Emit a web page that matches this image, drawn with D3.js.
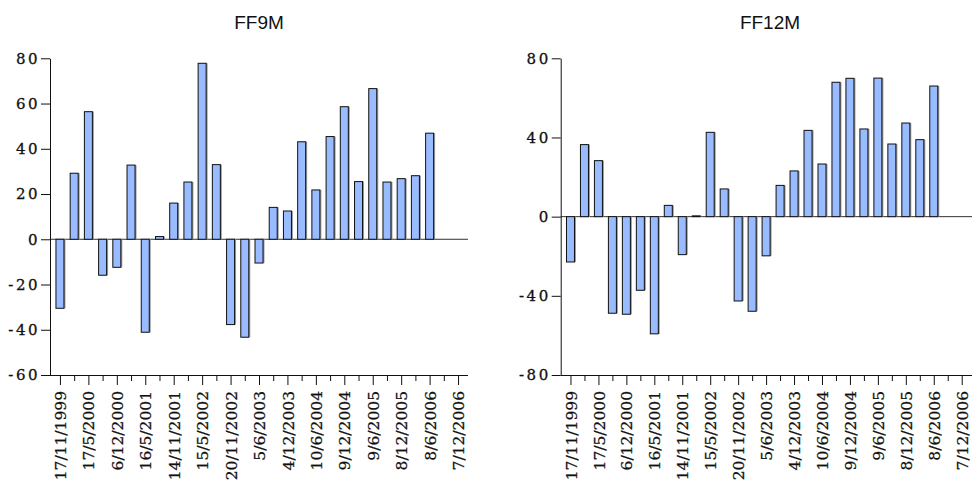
<!DOCTYPE html>
<html>
<head>
<meta charset="utf-8">
<script src="https://cdn.jsdelivr.net/npm/d3@7"></script>
<style>
  html, body { margin: 0; padding: 0; background: #fff; }
  svg { display: block; }
  .title { font-family: "Liberation Sans", Arial, sans-serif; font-size: 19px; fill: #111; }
  .ylab text { font-family: "DejaVu Serif", serif; font-size: 15px; letter-spacing: 2.5px; fill: #111; stroke: #111; stroke-width: 0.3px; }
  .xlab text { font-family: "DejaVu Serif", serif; font-size: 15.5px; fill: #111; stroke: #111; stroke-width: 0.25px; }
</style>
</head>
<body>
<svg id="chart" width="972" height="484"></svg>
<script>
// Observation dates (quarterly); only every second one is labelled
const dates = [
  "17/11/1999", "", "17/5/2000", "", "6/12/2000", "", "16/5/2001", "",
  "14/11/2001", "", "15/5/2002", "", "20/11/2002", "", "5/6/2003", "",
  "4/12/2003", "", "10/6/2004", "", "9/12/2004", "", "9/6/2005", "",
  "8/12/2005", "", "8/6/2006", "", "7/12/2006"
];

// FF9M series (last two observations not available)
const ff9m = [
  -30.5, 29.2, 56.4, -15.9, -12.4, 32.8, -41.1, 1.2, 16.0, 25.3,
  77.8, 33.0, -37.7, -43.3, -10.5, 14.1, 12.5, 43.1, 21.8, 45.4,
  58.6, 25.5, 66.6, 25.3, 26.8, 28.1, 46.9, null, null
];

// FF12M series
const ff12m = [
  -22.9, 36.4, 28.3, -48.8, -49.3, -37.2, -59.2, 5.7, -19.2, 0.4,
  42.6, 14.0, -42.6, -47.8, -19.8, 15.8, 23.1, 43.6, 26.6, 67.9,
  69.9, 44.3, 70.0, 36.7, 47.3, 38.9, 66.0, null, null
];

const ticks9 = [-60, -40, -20, 0, 20, 40, 60, 80];
const ticks12 = [-80, -40, 0, 40, 80];

const svg = d3.select("#chart");
const fmt = v => String(v); // plain hyphen for negatives

function panel(cfg) {
  const g = svg.append("g");
  const n = dates.length;
  const x = d3.scaleLinear().domain([-0.7, n - 1 + 0.7]).range([cfg.x0, cfg.x1]);
  const y = d3.scaleLinear().domain(cfg.yDomain).range([cfg.yBottom, cfg.yTop]);

  // title
  g.append("text").attr("class", "title")
    .attr("x", cfg.titleX).attr("y", 29)
    .attr("text-anchor", "middle").text(cfg.title);

  // zero line
  g.append("line")
    .attr("x1", cfg.x0).attr("x2", cfg.xEnd)
    .attr("y1", y(0)).attr("y2", y(0))
    .attr("stroke", "#333").attr("stroke-width", 1);

  // bars
  const bw = 8;
  const data = cfg.values.map((v, i) => ({ i, v })).filter(d => d.v !== null);
  const bars = g.append("g");
  // soft grey edge on the right of each bar
  bars.selectAll("rect.shade").data(data).join("rect")
    .attr("class", "shade")
    .attr("x", d => x(d.i) - bw / 2 + 1.5)
    .attr("y", d => Math.min(y(d.v), y(0)))
    .attr("width", bw)
    .attr("height", d => Math.max(0.5, Math.abs(y(d.v) - y(0))))
    .attr("fill", "#9a9a9a");
  bars.selectAll("rect.bar").data(data).join("rect")
    .attr("class", "bar")
    .attr("x", d => x(d.i) - bw / 2)
    .attr("y", d => Math.min(y(d.v), y(0)))
    .attr("width", bw)
    .attr("height", d => Math.max(0.5, Math.abs(y(d.v) - y(0))))
    .attr("fill", "#99bbff")
    .attr("stroke", "#111")
    .attr("stroke-width", 1);

  // y axis
  const ya = g.append("g").attr("class", "ylab")
    .attr("transform", `translate(${cfg.x0},0)`)
    .call(d3.axisLeft(y).tickValues(cfg.yTicks).tickSize(9).tickSizeOuter(0).tickPadding(1)
      .tickFormat(fmt));
  ya.select(".domain").attr("stroke", "#111");
  ya.selectAll(".tick line").attr("stroke", "#111");

  // x axis
  const xa = g.append("g").attr("class", "xlab")
    .attr("transform", `translate(0,${cfg.yBottom})`)
    .call(d3.axisBottom(x).tickValues(d3.range(n)).tickSize(6).tickSizeOuter(0)
      .tickFormat(i => dates[i]));
  xa.select(".domain").attr("d", `M${cfg.x0},0.5H${cfg.xEnd}`).attr("stroke", "#111");
  xa.selectAll(".tick line").attr("stroke", "#111")
    .attr("y2", i => dates[i] ? 10 : 6);
  xa.selectAll(".tick text")
    .attr("transform", "rotate(-90)")
    .attr("x", -16).attr("y", 0).attr("dy", "0.36em")
    .attr("text-anchor", "end");
}

panel({
  title: "FF9M", titleX: 259,
  x0: 50, x1: 468, xEnd: 468, yTop: 58.3, yBottom: 375,
  yDomain: [-60, 80], yTicks: ticks9, values: ff9m
});

panel({
  title: "FF12M", titleX: 770,
  x0: 560.7, x1: 971.5, xEnd: 972, yTop: 58.3, yBottom: 375,
  yDomain: [-80, 80], yTicks: ticks12, values: ff12m
});
</script>
</body>
</html>
